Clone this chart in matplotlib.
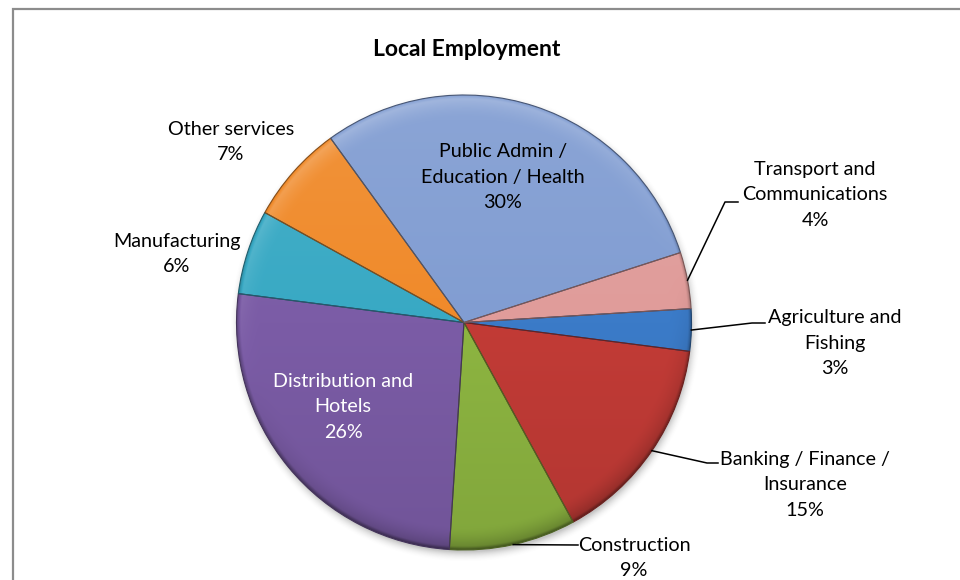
import numpy as np
import matplotlib.pyplot as plt
from matplotlib.colors import to_rgb

W, H = 960, 580

# employment share by sector (percent), in spreadsheet order
sectors = ["Agriculture and\nFishing", "Banking / Finance /\nInsurance", "Construction",
           "Distribution and\nHotels", "Manufacturing", "Other services",
           "Public Admin /\nEducation / Health", "Transport and\nCommunications"]
shares = [3, 15, 9, 26, 6, 7, 30, 4]
colors = ["#3b7bc8", "#c23b36", "#8db541", "#7b5ca6",
          "#38a9c4", "#f08a2a", "#819dd2", "#e09c9a"]

# layout in pixels from the top-left corner
cx, cy, R = 464, H - 322.5, 227.5
label_pos = [(835, 343), (805, 485), (634, 558), (343, 407),
             (177, 254), (231, 142), (503, 177), (815, 195)]
leaders = {0: [(752, 323), (765, 323)], 1: [(707, 463), (718, 463)],
           2: [(578, 545)], 7: [(725, 202), (738, 202)]}

plt.rcParams['font.family'] = ['Lato', 'DejaVu Sans']

fig = plt.figure(figsize=(W / 100, H / 100), dpi=100)
ax = fig.add_axes([0, 0, 1, 1])

wedges, _ = ax.pie(shares, colors=colors, startangle=3.5, counterclock=False,
                   center=(cx, cy), radius=R, normalize=True)

# soft drop shadow under the pie
n = 520
pad = 14
xs = np.linspace(cx - R - pad, cx + R + pad, n)
ys = np.linspace(cy - R - pad, cy + R + pad, n)
X, Y = np.meshgrid(xs, ys)
d = np.hypot(X - cx - 1, Y - cy + 4)
sh = np.zeros((n, n, 4))
sh[..., :3] = 0.35
sh[..., 3] = 0.35 * np.clip((R + 9 - d) / 11, 0, 1) ** 2
ax.imshow(sh, extent=(xs[0], xs[-1], ys[0], ys[-1]), origin='lower',
          zorder=0.5, interpolation='bilinear')

# bevel / gradient shading of each slice
rr = np.hypot(X - cx, Y - cy) / R
ny = (Y - cy) / R
nx = (X - cx) / R
rim = np.clip((rr - 0.9) / 0.1, 0, 1) ** 1.5
light = 0.08 * ny + rim * (0.22 * ny - 0.06 * nx)
light -= 0.25 * np.clip((rr - 0.985) / 0.015, 0, 1)

for w, c in zip(wedges, colors):
    base = np.array(to_rgb(c))
    img = np.empty((n, n, 4))
    L = light[..., None]
    img[..., :3] = np.where(L > 0, base + (1 - base) * L, base * (1 + L))
    img[..., 3] = 1
    im = ax.imshow(np.clip(img, 0, 1), extent=(xs[0], xs[-1], ys[0], ys[-1]),
                   origin='lower', zorder=2, interpolation='bilinear')
    im.set_clip_path(w)
    w.set_facecolor('none')
    w.set_edgecolor(tuple(base * 0.55))
    w.set_linewidth(0.8)
    w.set_zorder(3)

# labels and leader lines
for i, (w, txt) in enumerate(zip(wedges, sectors)):
    lx, ly = label_pos[i]
    ax.text(lx, H - ly, f"{txt}\n{shares[i]}%", ha='center', va='center',
            multialignment='center', fontsize=14.2, linespacing=1.63,
            color='white' if i == 3 else 'black', zorder=5)
    if i in leaders:
        mid = np.deg2rad((w.theta1 + w.theta2) / 2)
        pts = [(cx + R * np.cos(mid), cy + R * np.sin(mid))]
        pts += [(px, H - py) for px, py in leaders[i]]
        ax.plot(*zip(*pts), color='black', lw=1.1, zorder=4)

ax.text(467, H - 50, "Local Employment", ha='center', va='center',
        fontsize=16.5, fontweight='bold', zorder=5)

# chart frame, open to the right and bottom
ax.plot([13, 13, W], [0, H - 9, H - 9], color='#8c8c8c', lw=1.6,
        solid_joinstyle='miter', zorder=1)

ax.set_xlim(0, W)
ax.set_ylim(0, H)
ax.set_aspect('equal')
ax.axis('off')

fig.savefig('out.png', dpi=100)
